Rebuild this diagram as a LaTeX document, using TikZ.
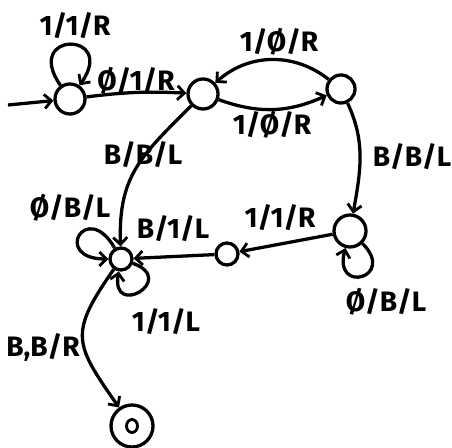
\documentclass[tikz,border=0pt]{standalone}
\usepackage{fontspec}
\setmainfont{Fira Sans}
\usetikzlibrary{arrows.meta}
\tikzset{
  state/.style={draw,circle,line width=2.8pt,inner sep=0pt},
  trans/.style={line width=2.8pt,-{Straight Barb[length=6pt,width=12pt,line width=2.4pt]}},
  lbl/.style={font=\fontsize{24}{28}\selectfont\bfseries,inner sep=0pt}
}
\begin{document}
\begin{tikzpicture}[x=0.03cm,y=0.03cm]
                \useasboundingbox (0,0) rectangle (452,447);
                % states
                \node[state,minimum size=0.9cm] (q0) at (70,348) {};
                \node[state,minimum size=0.9cm] (q1) at (203,353) {};
                \node[state,minimum size=0.84cm] (q2) at (341,358) {};
                \node[state,minimum size=0.96cm] (q3) at (350,216) {};
                \node[state,minimum size=0.66cm] (q4) at (227,193) {};
                \node[state,minimum size=0.66cm] (q5) at (121,188) {};
                \node[state,minimum size=1.26cm] (q6) at (132,21) {};
                \draw[line width=2.4pt] (q6.center) ellipse (5.5 and 6.5);
                \coordinate (start) at (8,342);
                % transitions
                \draw[trans] (start) -- (q0);
                \draw[trans] (q0) to[out=125,in=55,distance=2cm] (q0);
                \draw[trans] (q0) to[bend left=5] (q1);
                \draw[trans] (q2) to[bend right=40] (q1);
                \draw[trans] (q1) to[bend right=22] (q2);
                \draw[trans] (q2) to[out=-65,in=80] (q3);
                \draw[trans] (q3) to[out=-45,in=-105,distance=1.45cm] (q3);
                \draw[trans] (q3) -- (q4);
                \draw[trans] (q4) -- (q5);
                \draw[trans] (q1) to[out=-135,in=92,looseness=1.15] (q5);
                \draw[trans] (q5) to[out=120,in=180,distance=1.7cm] (q5);
                \draw[trans] (q5) to[out=-20,in=-100,distance=1.45cm] (q5);
                \draw[trans] (q5) to[out=-125,in=125,looseness=1.45] (q6);
                % labels
                \node[lbl] (l00) at (75,421) {1/1/R};
                \node[lbl] (l01) at (136,366) {Ø/1/R};
                \node[lbl] (l21) at (279,405) {1/Ø/R};
                \node[lbl] (l12) at (272,322) {1/Ø/R};
                \node[lbl] (l23) at (412,290) {B/B/L};
                \node[lbl] (l33) at (386,145) {Ø/B/L};
                \node[lbl] (l34) at (280,229) {1/1/R};
                \node[lbl] (l45) at (173,218) {B/1/L};
                \node[lbl] (l15) at (143,292) {B/B/L};
                \node[lbl] (l55a) at (70,239) {Ø/B/L};
                \node[lbl] (l55b) at (166,125) {1/1/L};
                \node[lbl] (l56) at (43,99) {B,B/R};
\end{tikzpicture}
\end{document}
